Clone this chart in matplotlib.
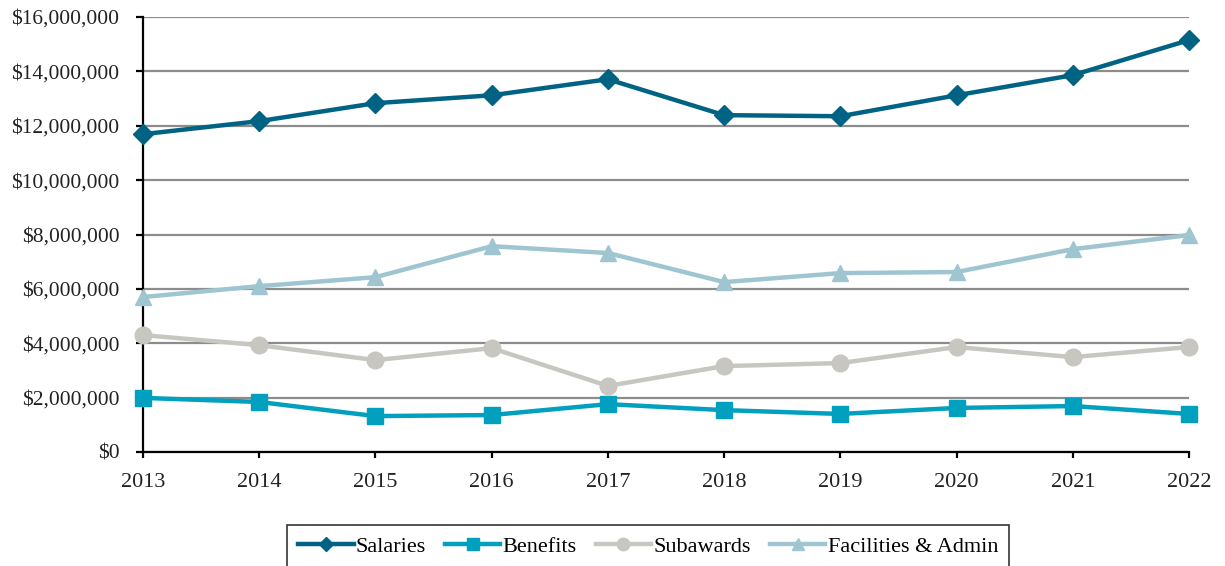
import matplotlib
matplotlib.use("Agg")
import matplotlib.pyplot as plt
from matplotlib.ticker import FuncFormatter

plt.rcParams["font.family"] = ["Liberation Serif", "DejaVu Serif"]

years = [2013, 2014, 2015, 2016, 2017, 2018, 2019, 2020, 2021, 2022]
salaries = [11.69e6, 12.17e6, 12.83e6, 13.12e6, 13.71e6, 12.39e6, 12.35e6, 13.12e6, 13.86e6, 15.15e6]
benefits = [1.99e6, 1.84e6, 1.32e6, 1.36e6, 1.76e6, 1.54e6, 1.40e6, 1.62e6, 1.69e6, 1.40e6]
subawards = [4.30e6, 3.93e6, 3.38e6, 3.82e6, 2.43e6, 3.16e6, 3.27e6, 3.86e6, 3.49e6, 3.86e6]
facilities = [5.70e6, 6.10e6, 6.43e6, 7.57e6, 7.32e6, 6.25e6, 6.58e6, 6.62e6, 7.46e6, 7.98e6]

series = [
    ("Salaries", salaries, "#006383", "D", 10),
    ("Benefits", benefits, "#00A0BE", "s", 12),
    ("Subawards", subawards, "#C8C6C0", "o", 12),
    ("Facilities & Admin", facilities, "#9EC5D0", "^", 12),
]

fig = plt.figure(figsize=(12.25, 5.66), dpi=100)
ax = fig.add_axes([143 / 1225, 114 / 566, (1189 - 143) / 1225, (452 - 17) / 566])

for name, vals, color, marker, ms in series:
    ax.plot(years, vals, color=color, linewidth=3.2, marker=marker, markersize=ms,
            label=name, clip_on=False, zorder=3)

ax.set_xlim(2013, 2022)
ax.set_ylim(0, 16e6)
ax.set_xticks(years)
ax.set_yticks(range(0, 16000001, 2000000))
ax.yaxis.set_major_formatter(FuncFormatter(lambda v, p: "${:,.0f}".format(v)))
ax.yaxis.grid(True, color="#8c8c8c", linewidth=1.6)
ax.set_axisbelow(True)

for s in ["top", "right"]:
    ax.spines[s].set_visible(False)
ax.spines["left"].set_linewidth(1.6)
ax.spines["bottom"].set_linewidth(1.6)
ax.tick_params(axis="both", direction="out", width=1.6, labelsize=15.5, colors="black")
ax.tick_params(axis="x", length=4, pad=11, labelsize=16)
ax.tick_params(axis="y", length=5, pad=12)
for lab in ax.get_xticklabels() + ax.get_yticklabels():
    lab.set_color("#222222")

leg = fig.legend(loc="upper center", bbox_to_anchor=(648 / 1225, 41 / 566), ncol=4,
                 fontsize=16, frameon=True, fancybox=False, edgecolor="black",
                 handlelength=2.5, handletextpad=0.1, columnspacing=0.85, markerscale=0.75,
                 borderpad=0.5, borderaxespad=0)
leg.get_frame().set_linewidth(1.2)

fig.savefig("out.png", dpi=100)
